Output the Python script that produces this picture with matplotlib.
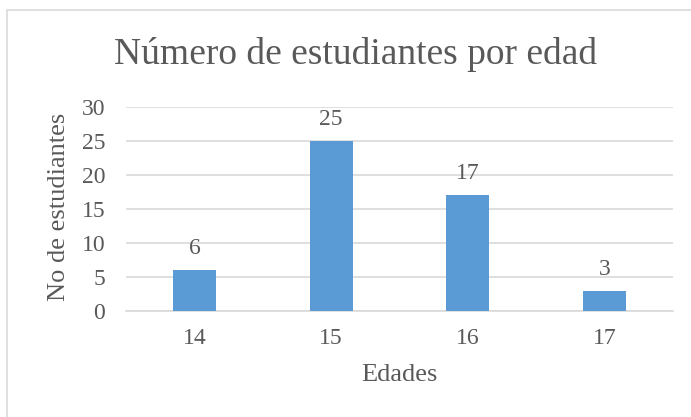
import matplotlib; matplotlib.use("Agg")
import matplotlib.pyplot as plt
from matplotlib.patches import Rectangle

plt.rcParams.update({"font.family": "serif", "font.serif": ["Liberation Serif", "DejaVu Serif"]})

edades = ["14", "15", "16", "17"]
estudiantes = [6, 25, 17, 3]

BAR, TXT, GRID = "#5b9bd5", "#595959", "#d9d9d9"
W, H = 691, 417

fig = plt.figure(figsize=(W / 100, H / 100), dpi=100)
fig.patches.append(Rectangle((7 / W, -0.1), 1.2, 1 - 10 / H + 0.1, transform=fig.transFigure,
                             facecolor="none", edgecolor=GRID, lw=1.2, zorder=-1))
ax = fig.add_axes([126 / W, 1 - 311 / H, (673 - 126) / W, (311 - 107) / H])
ax.set_facecolor("none")
x = range(len(edades))
ax.bar(x, estudiantes, width=0.315, color=BAR, zorder=3)
for xi, v in zip(x, estudiantes):
    ax.annotate(str(v), (xi, v), xytext=(0, 11.5), textcoords="offset points",
                ha="center", va="baseline", fontsize=17, color=TXT)
ax.set_xlim(-0.5, len(edades) - 0.5)
ax.set_ylim(0, 30)
ax.set_yticks(range(0, 31, 5))
ax.set_xticks(list(x)); ax.set_xticklabels(edades)
ax.yaxis.grid(True, color=GRID, lw=1.2, zorder=0)
for s in ["top", "right", "left"]:
    ax.spines[s].set_visible(False)
ax.spines["bottom"].set_color(GRID); ax.spines["bottom"].set_linewidth(1.2)
ax.tick_params(length=0, labelsize=17, colors=TXT)
ax.tick_params(axis="y", pad=15)
ax.tick_params(axis="x", pad=12)
ax.set_xlabel("Edades", fontsize=19, color=TXT, va="center")
ax.xaxis.set_label_coords(0.5, -0.315)
ax.set_ylabel("No de estudiantes", fontsize=19, color=TXT, va="center")
ax.yaxis.set_label_coords(-0.1225, 0.51)
fig.text(356 / W, 1 - 55 / H, "Número de estudiantes por edad", ha="center", va="center",
         fontsize=27, color=TXT)
fig.savefig("out.png", dpi=100, facecolor="white")
